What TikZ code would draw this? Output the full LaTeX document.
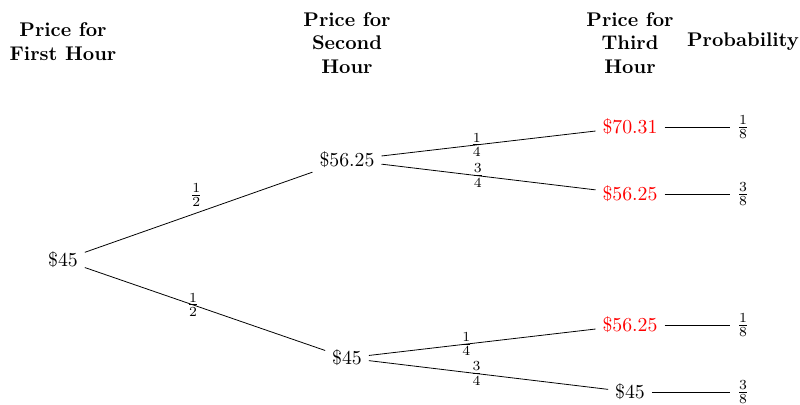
\documentclass[tikz,border=0pt]{standalone}
\begin{document}
\begin{tikzpicture}[x=0.505pt,y=-0.505pt,
  hdr/.style={font=\bfseries,align=center},
  price/.style={},
  hot/.style={text=red},
  prob/.style={},
  lbl/.style={inner sep=1pt}]
\useasboundingbox (0,0) rectangle (800,404);
% headers
\node[hdr] (h1) at (63,42) {Price for\\First Hour};
\node[hdr] (h2) at (347,43) {Price for\\Second\\Hour};
\node[hdr] (h3) at (630,43) {Price for\\Third\\Hour};
\node[hdr] (h4) at (743,42) {Probability};
% tree nodes
\node[price] (a) at (63,260) {\$45};
\node[price] (b) at (347,160) {\$56.25};
\node[price] (c) at (347,358) {\$45};
\node[hot] (d) at (630,127) {\$70.31};
\node[hot] (e) at (630,194) {\$56.25};
\node[hot] (f) at (630,325) {\$56.25};
\node[price] (g) at (630,392) {\$45};
\node[prob] (p1) at (743,127) {$\frac{1}{8}$};
\node[prob] (p2) at (743,194) {$\frac{3}{8}$};
\node[prob] (p3) at (743,325) {$\frac{1}{8}$};
\node[prob] (p4) at (743,392) {$\frac{3}{8}$};
% connectors
\draw (a) -- node[pos=0.49,above,inner sep=3pt] (l1) {$\frac{1}{2}$} (b);
\draw (a) -- node[pos=0.45,lbl] (l2) {$\frac{1}{2}$} (c);
\draw (b) -- node[pos=0.445,lbl] (l3) {$\frac{1}{4}$} (d);
\draw (b) -- node[pos=0.45,lbl] (l4) {$\frac{3}{4}$} (e);
\draw (c) -- node[pos=0.43,lbl] (l5) {$\frac{1}{4}$} (f);
\draw (c) -- node[pos=0.45,lbl] (l6) {$\frac{3}{4}$} (g);
\draw (d) -- (p1);
\draw (e) -- (p2);
\draw (f) -- (p3);
\draw (g) -- (p4);
\end{tikzpicture}
\end{document}
